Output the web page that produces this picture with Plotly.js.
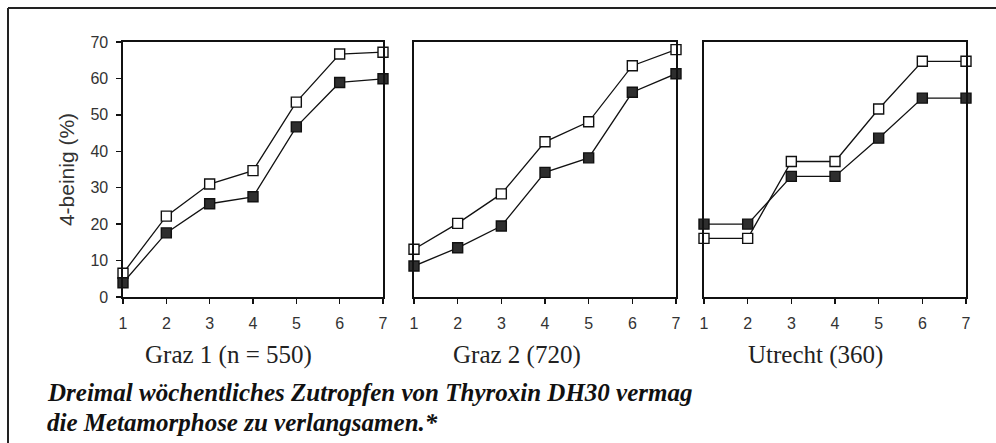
<!DOCTYPE html>
<html>
<head>
<meta charset="utf-8">
<script src="https://cdn.plot.ly/plotly-3.0.1.min.js"></script>
<style>html,body{margin:0;padding:0;background:#fff;}#chart{width:996px;height:443px;}</style>
</head>
<body>
<div id="chart"></div>
<script>
// ---- data ----
const weeks = [1, 2, 3, 4, 5, 6, 7];
const xTickLabels = ['1', '2', '3', '4', '5', '6', '7'];
const yTickValues = [0, 10, 20, 30, 40, 50, 60, 70];
const panelTitles = ['Graz 1 (n = 550)', 'Graz 2 (720)', 'Utrecht (360)'];
const graz1Open = [6.5, 22.2, 31.0, 34.7, 53.5, 66.7, 67.2];
const graz1Filled = [3.9, 17.6, 25.6, 27.5, 46.7, 58.9, 59.9];
const graz2Open = [13.1, 20.2, 28.3, 42.6, 48.1, 63.5, 67.9];
const graz2Filled = [8.5, 13.5, 19.5, 34.2, 38.2, 56.2, 61.3];
const utrechtOpen = [16.1, 16.1, 37.2, 37.2, 51.6, 64.7, 64.7];
const utrechtFilled = [20.0, 20.0, 33.1, 33.1, 43.6, 54.6, 54.6];
const yTitle = '4-beinig (%)';
const captionLine1 = 'Dreimal wöchentliches Zutropfen von Thyroxin DH30 vermag';
const captionLine2 = 'die Metamorphose zu verlangsamen.*';

// ---- layout helpers (pixel -> paper) ----
const W = 996, H = 443;
const px = v => v / W;
const py = v => 1 - v / H;

const openSeries = [graz1Open, graz2Open, utrechtOpen];
const filledSeries = [graz1Filled, graz2Filled, utrechtFilled];
const axisIds = ['', '2', '3'];

const traces = [];
for (let i = 0; i < 3; i++) {
  const xa = 'x' + axisIds[i], ya = 'y' + axisIds[i];
  traces.push({
    x: weeks, y: openSeries[i], xaxis: xa, yaxis: ya, type: 'scatter', mode: 'lines+markers',
    cliponaxis: false, showlegend: false, hoverinfo: 'skip',
    line: {color: '#111', width: 1.3},
    marker: {symbol: 'square', size: 10, color: '#ffffff', line: {color: '#111', width: 1.4}}
  });
  traces.push({
    x: weeks, y: filledSeries[i], xaxis: xa, yaxis: ya, type: 'scatter', mode: 'lines+markers',
    cliponaxis: false, showlegend: false, hoverinfo: 'skip',
    line: {color: '#111', width: 1.3},
    marker: {symbol: 'square', size: 10, color: '#2e2e2e', line: {color: '#111', width: 1.4}}
  });
}

const panelPx = [[123, 383], [414, 676], [704, 966]];
const yDomain = [py(297), py(42)];
const tickFont = {family: 'Liberation Sans, Arial, sans-serif', size: 16, color: '#333'};

const layout = {
  width: W, height: H,
  margin: {l: 0, r: 0, t: 0, b: 0, pad: 0},
  paper_bgcolor: '#fff', plot_bgcolor: '#fff',
  showlegend: false,
  annotations: [],
  shapes: [
    {type: 'line', xref: 'paper', yref: 'paper', x0: px(8), x1: px(996), y0: py(8), y1: py(8), line: {color: '#222', width: 2}},
    {type: 'line', xref: 'paper', yref: 'paper', x0: px(8), x1: px(8), y0: py(8), y1: py(443), line: {color: '#222', width: 2}}
  ]
};

for (let i = 0; i < 3; i++) {
  const id = axisIds[i];
  layout['xaxis' + id] = {
    domain: [px(panelPx[i][0]), px(panelPx[i][1])],
    anchor: 'y' + id,
    range: [1, 7], tickvals: weeks, ticktext: xTickLabels,
    ticks: 'outside', ticklen: 5, tickwidth: 1.3, tickcolor: '#111', ticklabelstandoff: 6,
    showline: true, mirror: true, linecolor: '#111', linewidth: 1.6,
    showgrid: false, zeroline: false, tickfont: tickFont, fixedrange: true
  };
  layout['yaxis' + id] = {
    domain: yDomain,
    anchor: 'x' + id,
    range: [0, 70],
    tickvals: yTickValues,
    showticklabels: i === 0,
    ticks: i === 0 ? 'outside' : '',
    ticklen: 5, tickwidth: 1.3, tickcolor: '#111', ticklabelstandoff: 5,
    showline: true, mirror: true, linecolor: '#111', linewidth: 1.6,
    showgrid: false, zeroline: false, tickfont: tickFont, fixedrange: true
  };
}
layout.yaxis.title = {text: yTitle, font: {family: 'Liberation Sans, Arial, sans-serif', size: 21, color: '#333'}, standoff: 10};

const titleCenters = [228, 517, 815];
for (let i = 0; i < 3; i++) {
  layout.annotations.push({
    xref: 'paper', yref: 'paper', x: px(titleCenters[i]), y: py(355),
    xanchor: 'center', yanchor: 'middle', showarrow: false,
    text: panelTitles[i],
    font: {family: 'Liberation Serif, Times New Roman, serif', size: 25, color: '#222'}
  });
}
const capFont = {family: 'Liberation Serif, Times New Roman, serif', size: 25, color: '#111'};
layout.annotations.push({
  xref: 'paper', yref: 'paper', x: px(45), y: py(392.5), xanchor: 'left', yanchor: 'middle', showarrow: false,
  text: '<b><i>' + captionLine1 + '</i></b>', font: capFont
});
layout.annotations.push({
  xref: 'paper', yref: 'paper', x: px(45), y: py(422), xanchor: 'left', yanchor: 'middle', showarrow: false,
  text: '<b><i>' + captionLine2 + '</i></b>', font: capFont
});

Plotly.newPlot('chart', traces, layout, {staticPlot: true, displayModeBar: false});
</script>
</body>
</html>
